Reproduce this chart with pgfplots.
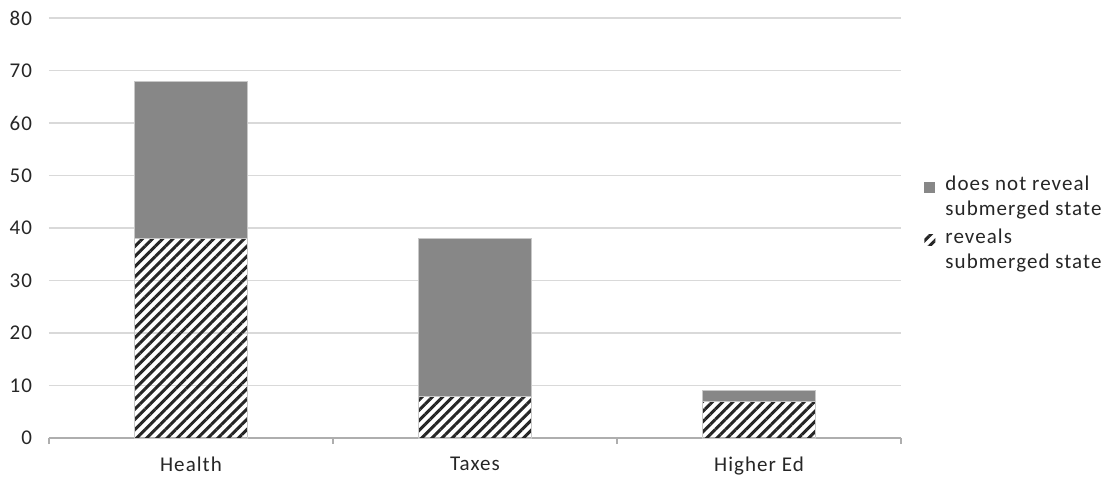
\documentclass[border=0pt]{standalone}
\usepackage{pgfplots}
\pgfplotsset{compat=1.18}
\usetikzlibrary{patterns.meta}
\usepackage{fontspec}
\setmainfont{Carlito}[LetterSpace=5]

\definecolor{barfill}{HTML}{878787}
\definecolor{gridc}{HTML}{D9D9D9}
\definecolor{edgec}{HTML}{C8C8C8}
\definecolor{textc}{HTML}{262626}

\begin{document}
\begin{tikzpicture}
\begin{axis}[
  scale only axis,
  width=426pt, height=210pt,
  ybar stacked,
  bar width=0.4,
  xmin=-0.5, xmax=2.5,
  ymin=0, ymax=80,
  ytick distance=10,
  xtick={0,1,2},
  xticklabels={Health, Taxes, Higher Ed},
  minor xtick={-0.5,0.5,1.5,2.5},
  tick align=outside,
  major tick length=0pt,
  minor tick length=3pt,
  minor tick style={gridc!80!black, line width=0.6pt},
  axis x line*=bottom,
  axis y line*=left,
  x axis line style={gridc!80!black, line width=0.7pt},
  y axis line style={draw=none},
  ymajorgrids,
  major grid style={gridc, line width=0.8pt},
  font=\fontsize{10.5}{12}\selectfont,
  tick label style={text=textc},
  /pgf/number format/assume math mode=true,
  yticklabel style={xshift=-5pt},
  xticklabel style={yshift=-6pt},
  legend style={draw=none, at={(1.02,0.51)}, anchor=west,
    nodes={align=left, text=textc, inner sep=2pt},
    row sep=1pt, font=\fontsize{10.5}{12.5}\selectfont},
  legend cell align=left,
  reverse legend,
  legend image code/.code={
    \path[draw=none, fill=none, pattern=none] (0pt,0pt) -- (8.5pt,0pt);
    \draw[#1, draw=none] (0pt,2.5pt) rectangle (5.5pt,8pt);
  },
]
\addplot[draw=edgec, line width=0.5pt,
  pattern={Lines[angle=45, distance=3.6pt, line width=1.5pt]}, pattern color=black!85]
  coordinates {(0,38) (1,8) (2,7)};
\addlegendentry{reveals\\submerged state}
\addplot[draw=edgec, line width=0.5pt, fill=barfill]
  coordinates {(0,30) (1,30) (2,2)};
\addlegendentry{does not reveal\\submerged state}
\end{axis}
\pgfresetboundingbox
\path ([xshift=-24.5pt, yshift=-22.5pt]current axis.south west)
  rectangle ([xshift=101pt, yshift=9pt]current axis.north east);
\end{tikzpicture}
\end{document}
